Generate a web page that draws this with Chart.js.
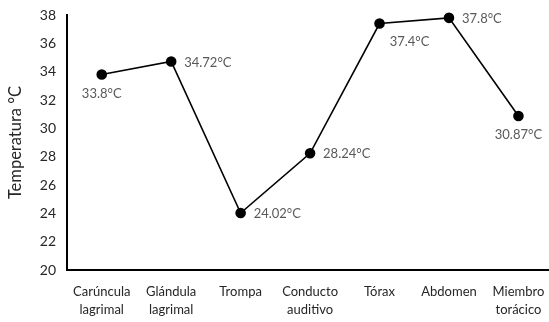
<!DOCTYPE html>
<html>
<head>
<meta charset="utf-8">
<script src="https://cdn.jsdelivr.net/npm/chart.js@4.4.0/dist/chart.umd.min.js"></script>
<style>
  html, body { margin: 0; padding: 0; background: #fff; }
  #wrap { width: 549px; height: 322px; position: relative; }
</style>
</head>
<body>
<div id="wrap"><canvas id="myChart"></canvas></div>
<script>
const categories = [
    ['Carúncula', 'lagrimal'],
    ['Glándula', 'lagrimal'],
    ['Trompa'],
    ['Conducto', 'auditivo'],
    ['Tórax'],
    ['Abdomen'],
    ['Miembro', 'torácico']
];
const temperatures = [33.8, 34.72, 24.02, 28.24, 37.4, 37.8, 30.87];
const yTicks = [20, 22, 24, 26, 28, 30, 32, 34, 36, 38];

// where each value label sits relative to its point
const labelSide = ['below', 'right', 'right', 'right', 'belowRight', 'right', 'below'];

const font = "Lato, 'Open Sans', sans-serif";

const valueLabels = {
    id: 'valueLabels',
    afterDatasetsDraw(chart) {
        const {ctx} = chart;
        const meta = chart.getDatasetMeta(0);
        ctx.save();
        ctx.font = '13px ' + font;
        ctx.fillStyle = '#595959';
        ctx.textBaseline = 'middle';
        meta.data.forEach((pt, i) => {
            const txt = temperatures[i] + '°C';
            const side = labelSide[i];
            if (side === 'right') {
                ctx.textAlign = 'left';
                ctx.fillText(txt, pt.x + 13, pt.y + 1);
            } else if (side === 'belowRight') {
                ctx.textAlign = 'center';
                ctx.fillText(txt, pt.x + 30, pt.y + 18);
            } else {
                ctx.textAlign = 'center';
                ctx.fillText(txt, pt.x, pt.y + 19);
            }
        });
        ctx.restore();
    }
};

const myChart = document.getElementById('myChart');

let lineChart = new Chart(myChart, {
    type: 'line',
    data: {
        datasets: [{
            data: temperatures.map((t, i) => ({x: i, y: t})),
            borderColor: '#000',
            borderWidth: 1.6,
            pointRadius: 4.5,
            pointBackgroundColor: '#000',
            pointBorderColor: '#000',
            tension: 0,
            clip: false
        }]
    },
    options: {
        responsive: true,
        maintainAspectRatio: false,
        animation: false,
        layout: { autoPadding: false, padding: { top: 15, right: 0, left: 0, bottom: 0 } },
        plugins: {
            legend: { display: false },
            tooltip: { enabled: false }
        },
        scales: {
            x: {
                type: 'linear',
                min: -0.5,
                max: 6.44,
                grid: { display: false, drawTicks: false },
                border: { color: '#000', width: 2 },
                afterBuildTicks: (scale) => {
                    scale.ticks = categories.map((c, i) => ({value: i}));
                },
                afterFit: (scale) => {
                    scale.height = 52;
                    scale.paddingLeft = 0;
                    scale.paddingRight = 0;
                },
                ticks: {
                    autoSkip: false,
                    maxRotation: 0,
                    padding: 12,
                    color: '#262626',
                    font: { family: font, size: 13, lineHeight: 1.45 },
                    callback: (v) => categories[v]
                }
            },
            y: {
                min: 20,
                max: 38,
                grid: { display: false, drawTicks: false },
                border: { color: '#000', width: 2 },
                afterBuildTicks: (scale) => {
                    scale.ticks = yTicks.map(v => ({value: v}));
                },
                afterFit: (scale) => {
                    scale.width = 67;
                    scale.paddingTop = 0;
                    scale.paddingBottom = 0;
                },
                ticks: {
                    padding: 11,
                    color: '#262626',
                    font: { family: font, size: 14 }
                },
                title: {
                    display: true,
                    text: 'Temperatura °C',
                    color: '#262626',
                    font: { family: font, size: 16.5 },
                    padding: { top: 6, bottom: 4 }
                }
            }
        }
    },
    plugins: [valueLabels]
});
</script>
</body>
</html>
